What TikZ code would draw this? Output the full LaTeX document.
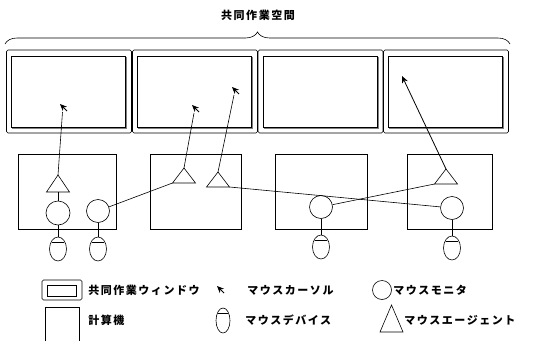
\documentclass[tikz,border=0pt]{standalone}
\usepackage{fontspec}
\newfontfamily\jp{Noto Sans CJK JP}[LetterSpace=14]
\usetikzlibrary{shapes.geometric,decorations.pathreplacing,arrows.meta,calc}
\newcommand\agent[4]{% name, cx, base y, height
  \coordinate (#1-a) at (#2,#3-#4);
  \coordinate (#1-l) at (#2-11.5,#3);
  \coordinate (#1-r) at (#2+11.5,#3);
  \coordinate (#1-b) at (#2,#3);
  \draw (#1-a) -- (#1-l) -- (#1-r) -- cycle;}
\newcommand\mousedev[5]{% name, x, y, w, h
  \node[mouse, minimum width=#4, minimum height=#5] (#1) at (#2,#3) {};
  \draw ($(#1.north)+(-#4*0.38,#5*0.22)$) -- ($(#1.north)+(#4*0.38,#5*0.22)$);}
\newcommand\cursoricon[1]{%
  \draw[cursor] ($(#1)+(7,7)$) -- (#1);}
\begin{document}
\begin{tikzpicture}[x=1pt,y=-1pt,line width=0.6pt,
  winouter/.style={draw, rounded corners=1.5pt, inner sep=0pt, line width=0.6pt},
  wininner/.style={draw, inner sep=0pt, line width=0.5pt},
  comp/.style={draw, inner sep=0pt, line width=0.6pt},
  monitor/.style={draw, circle, inner sep=0pt},
  mouse/.style={draw, ellipse, inner sep=0pt},
  cursor/.style={-{Stealth[length=7pt,width=6pt]}, line width=0.8pt},
  lbl/.style={anchor=west, inner sep=0pt, font={\jp\bfseries\fontsize{11pt}{13pt}\selectfont}}]
\useasboundingbox (0,0) rectangle (540,340);

% title and brace
\node[lbl, anchor=center] (title) at (258,15) {共同作業空間};
\draw[decorate, decoration={brace, amplitude=12pt}] (5,44) -- (510,44);

% shared windows
\foreach \i/\cx in {1/69,2/195,3/320.5,4/446}{
  \node[winouter, minimum width=125pt, minimum height=83pt] (w\i) at (\cx,91.5) {};
  \node[wininner, minimum width=114pt, minimum height=71pt] (w\i i) at (\cx-0.5,91.5) {};
  \draw[gray, line width=0.6pt] ($(w\i i.south west)+(1,1)$) -- ($(w\i i.south east)+(1,1)$) -- ($(w\i i.north east)+(1,1)$);
}

% computers
\node[comp, minimum width=98pt, minimum height=75pt] (c1) at (67,191.5) {};
\node[comp, minimum width=91pt, minimum height=75pt] (c2) at (195.5,191.5) {};
\node[comp, minimum width=92pt, minimum height=75pt] (c3) at (321,191.5) {};
\node[comp, minimum width=85pt, minimum height=75pt] (c4) at (449.5,191.5) {};

% agents
\agent{t1}{58}{192}{17}
\agent{tA}{184}{183}{15}
\agent{tB}{218}{187}{15}
\agent{t4}{446}{184}{15}

% monitors
\node[monitor, minimum size=24pt] (m1) at (58,213) {};
\node[monitor, minimum size=23pt] (m2) at (98,211) {};
\node[monitor, minimum size=23pt] (m3) at (321,207) {};
\node[monitor, minimum size=23pt] (m4) at (452,208) {};

% mice
\mousedev{d1}{58}{249}{17}{24}
\mousedev{d2}{98}{249}{17}{24}
\mousedev{d3}{321}{247}{17}{24}
\mousedev{d4}{452}{248}{17}{24}

% cursors
\coordinate (k1) at (60,104);
\coordinate (k2) at (192,105);
\coordinate (k3) at (232,87);
\coordinate (k4) at (402,76);
\foreach \k in {k1,k2,k3}{\cursoricon{\k}}
\draw[cursor] (t4-a) -- (k4);

% connectors
\draw (t1-b) -- (m1);
\foreach \i in {1,2,3,4}{\draw (m\i) -- (d\i);}
\draw (m2) -- (tA-l);
\draw (tB-r) -- (m4);
\draw (m3) -- (t4-l);
\draw (t1-a) -- ($(k1)+(2.5,8)$);
\draw (tA-a) -- ($(k2)+(2,8)$);
\draw (tB-a) -- ($(k3)+(2,8)$);

% legend
\node[winouter, minimum width=40pt, minimum height=20pt] (lw) at (62,290) {};
\node[wininner, minimum width=29pt, minimum height=11pt] (lwi) at (61.5,290.5) {};
\node[lbl] (lwt) at (88,290) {共同作業ウィンドウ};
\coordinate (lk) at (217,286);
\cursoricon{lk}
\node[lbl] (lkt) at (247,290) {マウスカーソル};
\node[monitor, minimum size=19pt] (lm) at (382,290) {};
\node[lbl] (lmt) at (393,290) {マウスモニタ};
\node[comp, minimum width=34pt, minimum height=40pt] (lc) at (62,327) {};
\node[lbl] (lct) at (88,320) {計算機};
\mousedev{ld}{223}{320.5}{14}{25}
\node[lbl] (ldt) at (245,320) {マウスデバイス};
\agent{lt}{391.5}{332}{27}
\node[lbl] (ltt) at (404,320) {マウスエージェント};
\end{tikzpicture}
\end{document}
